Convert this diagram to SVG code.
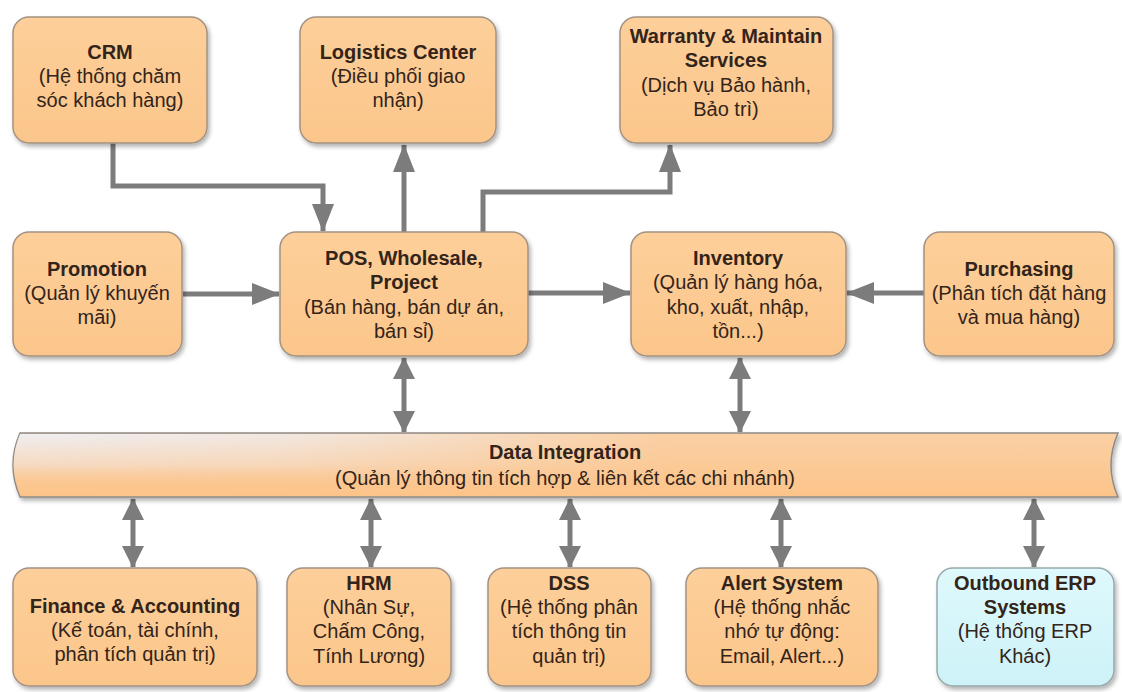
<svg xmlns="http://www.w3.org/2000/svg" width="1122" height="692" viewBox="0 0 1122 692">
<defs>
<style>
.box{fill:url(#boxg);stroke:#a39282;stroke-width:1.5;filter:url(#sh)}
.cyan{fill:url(#cyang);stroke:#98a8aa;stroke-width:1.5;filter:url(#sh)}
text{font-family:"Liberation Sans",Arial,sans-serif;font-size:20px;fill:#33241a;text-anchor:middle}
.t{font-weight:bold}
.c{fill:none;stroke:#7c7c7c;stroke-width:5}
</style>
<linearGradient id="boxg" x1="0" y1="0" x2="0" y2="1">
<stop offset="0" stop-color="#fdcf9a"/>
<stop offset="1" stop-color="#fbc68b"/>
</linearGradient>
<linearGradient id="cyang" x1="0" y1="0" x2="0" y2="1">
<stop offset="0" stop-color="#dff9fc"/>
<stop offset="1" stop-color="#cdf2f8"/>
</linearGradient>
<linearGradient id="bandg" x1="0" y1="0" x2="0" y2="1">
<stop offset="0" stop-color="#fbd0a4"/>
<stop offset="1" stop-color="#fcc48a"/>
</linearGradient>
<linearGradient id="bandv" x1="0" y1="0" x2="0" y2="1">
<stop offset="0" stop-color="#eeeef2" stop-opacity="1"/>
<stop offset="0.5" stop-color="#f3e2d6" stop-opacity="0.7"/>
<stop offset="0.9" stop-color="#fcc48a" stop-opacity="0"/>
</linearGradient>
<linearGradient id="bandh" x1="0" y1="0" x2="1" y2="0">
<stop offset="0" stop-color="#ffffff"/>
<stop offset="0.25" stop-color="#ffffff" stop-opacity="0.8"/>
<stop offset="0.6" stop-color="#ffffff" stop-opacity="0"/>
</linearGradient>
<mask id="bandmask" maskUnits="userSpaceOnUse" x="0" y="420" width="1122" height="90">
<rect x="0" y="420" width="1122" height="90" fill="url(#bandh)"/>
</mask>
<filter id="sh" x="-10%" y="-10%" width="125%" height="130%">
<feDropShadow dx="2" dy="3" stdDeviation="2" flood-color="#000" flood-opacity="0.3"/>
</filter>
<marker id="ah" viewBox="0 0 28 22" refX="27" refY="11" markerWidth="28" markerHeight="22" markerUnits="userSpaceOnUse" orient="auto-start-reverse">
<path d="M0,0 L28,11 L0,22 Z" fill="#7c7c7c"/>
</marker>
<marker id="as" viewBox="0 0 22 22" refX="21" refY="11" markerWidth="22" markerHeight="22" markerUnits="userSpaceOnUse" orient="auto-start-reverse">
<path d="M0,0 L22,11 L0,22 Z" fill="#7c7c7c"/>
</marker>
</defs>
<rect width="1122" height="692" fill="#ffffff"/>

<g id="connectors">
<path class="c" d="M113,143 V186 H323 V231" marker-end="url(#ah)"/>
<path class="c" d="M404,232 V145" marker-end="url(#ah)"/>
<path class="c" d="M483,232 V192 H670 V145" marker-end="url(#ah)"/>
<path class="c" d="M183,294 H279" marker-end="url(#ah)"/>
<path class="c" d="M528,293 H630" marker-end="url(#ah)"/>
<path class="c" d="M924,293 H847" marker-end="url(#ah)"/>
<path class="c" d="M404,358 V432" marker-start="url(#as)" marker-end="url(#as)"/>
<path class="c" d="M740,358 V432" marker-start="url(#as)" marker-end="url(#as)"/>
<path class="c" d="M133,499 V567" marker-start="url(#as)" marker-end="url(#as)"/>
<path class="c" d="M371,499 V567" marker-start="url(#as)" marker-end="url(#as)"/>
<path class="c" d="M570,499 V567" marker-start="url(#as)" marker-end="url(#as)"/>
<path class="c" d="M781,499 V567" marker-start="url(#as)" marker-end="url(#as)"/>
<path class="c" d="M1034,499 V567" marker-start="url(#as)" marker-end="url(#as)"/>
</g>

<g id="crm">
<rect class="box" x="13" y="17" width="194" height="126" rx="16"/>
<text class="t" x="110" y="59">CRM</text>
<text x="110" y="83">(Hệ thống chăm</text>
<text x="110" y="107">sóc khách hàng)</text>
</g>

<g id="logistics">
<rect class="box" x="300" y="17" width="196" height="126" rx="16"/>
<text class="t" x="398" y="59">Logistics Center</text>
<text x="398" y="83">(Điều phối giao</text>
<text x="398" y="107">nhận)</text>
</g>

<g id="warranty">
<rect class="box" x="620" y="17" width="213" height="126" rx="16"/>
<text class="t" x="726" y="43">Warranty &amp; Maintain</text>
<text class="t" x="726" y="67">Services</text>
<text x="726" y="92">(Dịch vụ Bảo hành,</text>
<text x="726" y="116">Bảo trì)</text>
</g>

<g id="promotion">
<rect class="box" x="13" y="232" width="169" height="124" rx="16"/>
<text class="t" x="97" y="276">Promotion</text>
<text x="97" y="300">(Quản lý khuyến</text>
<text x="97" y="324">mãi)</text>
</g>

<g id="pos">
<rect class="box" x="280" y="232" width="248" height="124" rx="16"/>
<text class="t" x="404" y="265">POS, Wholesale,</text>
<text class="t" x="404" y="289">Project</text>
<text x="404" y="314">(Bán hàng, bán dự án,</text>
<text x="404" y="338">bán sỉ)</text>
</g>

<g id="inventory">
<rect class="box" x="631" y="232" width="215" height="124" rx="16"/>
<text class="t" x="738" y="265">Inventory</text>
<text x="738" y="289">(Quản lý hàng hóa,</text>
<text x="738" y="314">kho, xuất, nhập,</text>
<text x="738" y="338">tồn...)</text>
</g>

<g id="purchasing">
<rect class="box" x="924" y="232" width="190" height="124" rx="16"/>
<text class="t" x="1019" y="276">Purchasing</text>
<text x="1019" y="300">(Phân tích đặt hàng</text>
<text x="1019" y="324">và mua hàng)</text>
</g>

<g id="data-integration">
<path d="M20,433 H1118 Q1104,465 1118,497 H20 Q6,465 20,433 Z" fill="url(#bandg)" stroke="#8f8a86" stroke-width="1.5" filter="url(#sh)"/>
<path d="M20,434 H1116 Q1103,465 1116,496 H20 Q7,465 20,434 Z" fill="url(#bandv)" mask="url(#bandmask)"/>
<text class="t" x="565" y="459">Data Integration</text>
<text x="565" y="485">(Quản lý thông tin tích hợp &amp; liên kết các chi nhánh)</text>
</g>

<g id="finance">
<rect class="box" x="13" y="568" width="244" height="118" rx="16"/>
<text class="t" x="135" y="613">Finance &amp; Accounting</text>
<text x="135" y="637">(Kế toán, tài chính,</text>
<text x="135" y="661">phân tích quản trị)</text>
</g>

<g id="hrm">
<rect class="box" x="287" y="568" width="164" height="118" rx="16"/>
<text class="t" x="369" y="590">HRM</text>
<text x="369" y="614">(Nhân Sự,</text>
<text x="369" y="638">Chấm Công,</text>
<text x="369" y="663">Tính Lương)</text>
</g>

<g id="dss">
<rect class="box" x="488" y="568" width="163" height="118" rx="16"/>
<text class="t" x="569" y="590">DSS</text>
<text x="569" y="614">(Hệ thống phân</text>
<text x="569" y="638">tích thông tin</text>
<text x="569" y="663">quản trị)</text>
</g>

<g id="alert">
<rect class="box" x="686" y="568" width="192" height="118" rx="16"/>
<text class="t" x="782" y="590">Alert System</text>
<text x="782" y="614">(Hệ thống nhắc</text>
<text x="782" y="638">nhớ tự động:</text>
<text x="782" y="663">Email, Alert...)</text>
</g>

<g id="outbound">
<rect class="cyan" x="937" y="568" width="177" height="118" rx="16"/>
<text class="t" x="1025" y="590">Outbound ERP</text>
<text class="t" x="1025" y="614">Systems</text>
<text x="1025" y="638">(Hệ thống ERP</text>
<text x="1025" y="663">Khác)</text>
</g>
</svg>
